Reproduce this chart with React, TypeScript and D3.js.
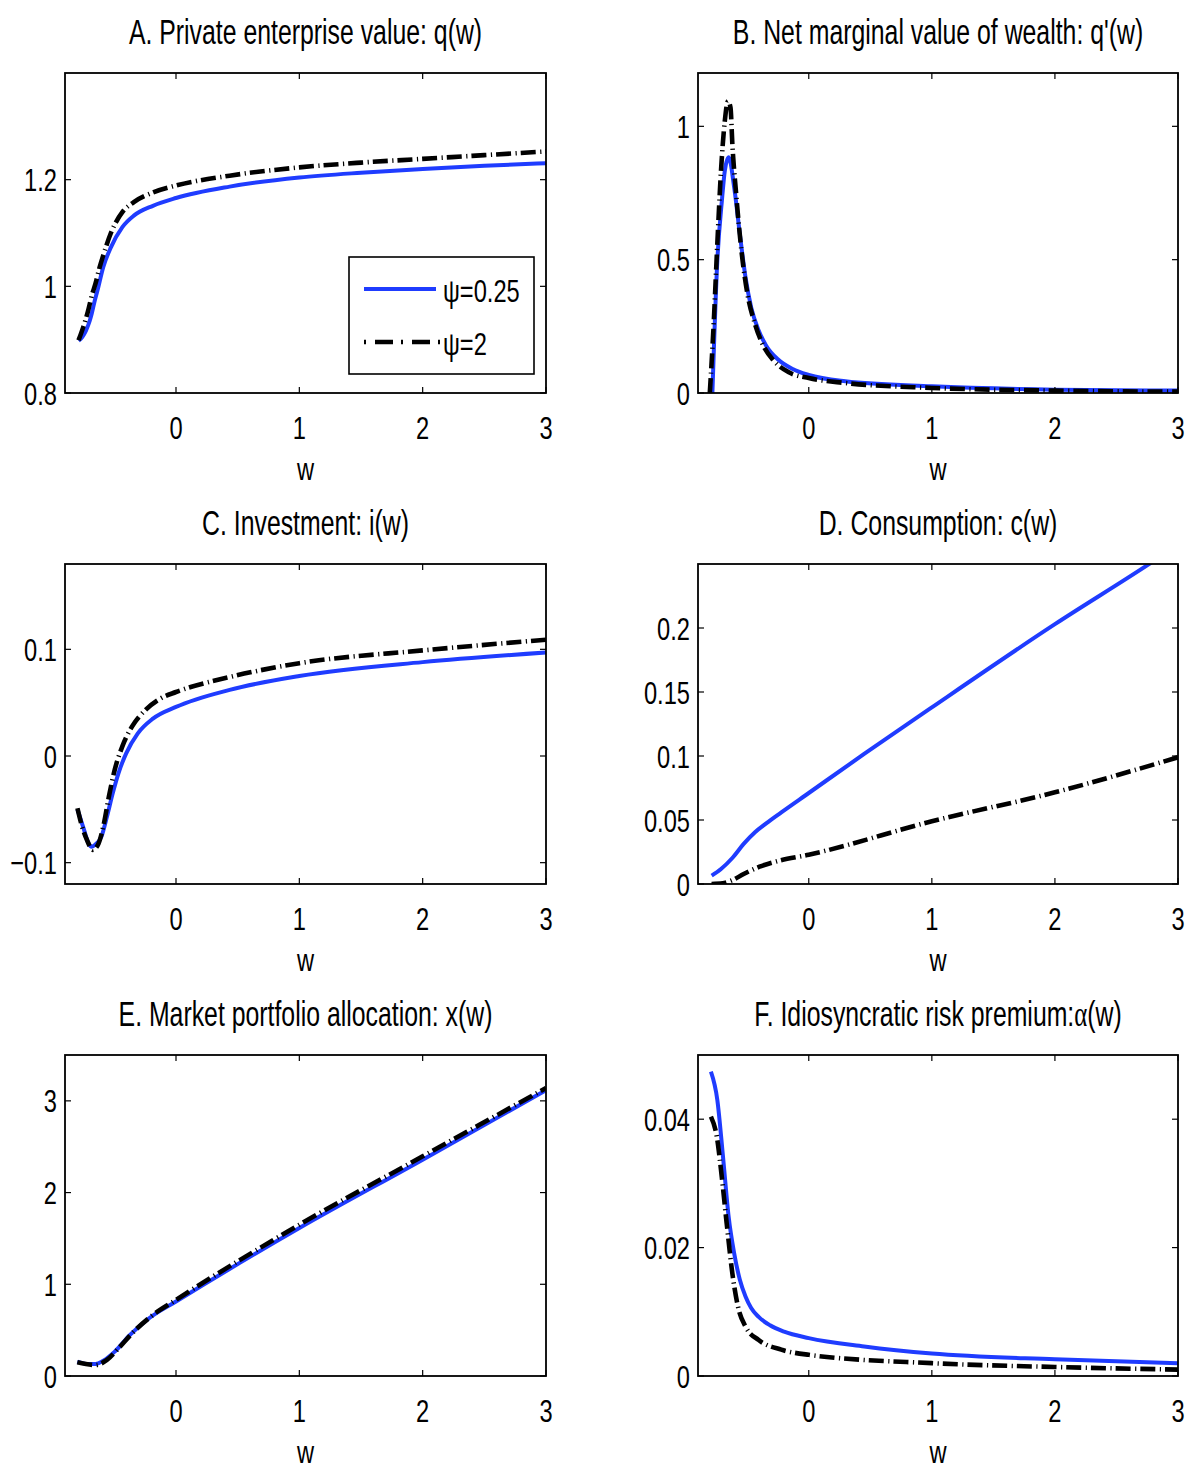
import React from "react";
import * as d3 from "d3";

// ---------- data ----------
const W_DOMAIN: [number, number] = [-0.9, 3];
const X_TICKS = [0, 1, 2, 3];

const TITLES = [
  "A. Private enterprise value: q(w)",
  "B. Net marginal value of wealth: q'(w)",
  "C. Investment: i(w)",
  "D. Consumption: c(w)",
  "E. Market portfolio allocation: x(w)",
  "F. Idiosyncratic risk premium:",
];
const LEGEND_LABELS = ["ψ=0.25", "ψ=2"];

const Y_DOMAINS: [number, number][] = [
  [0.8, 1.4],
  [0, 1.2],
  [-0.12, 0.18],
  [0, 0.25],
  [0, 3.5],
  [0, 0.05],
];
const Y_TICKS: number[][] = [
  [0.8, 1, 1.2],
  [0, 0.5, 1],
  [-0.1, 0, 0.1],
  [0, 0.05, 0.1, 0.15, 0.2],
  [0, 1, 2, 3],
  [0, 0.02, 0.04],
];
const Y_TICK_LABELS: string[][] = [
  ["0.8", "1", "1.2"],
  ["0", "0.5", "1"],
  ["−0.1", "0", "0.1"],
  ["0", "0.05", "0.1", "0.15", "0.2"],
  ["0", "1", "2", "3"],
  ["0", "0.02", "0.04"],
];

// A. q(w)
const qLow: [number, number][] = [
  [-0.79, 0.898], [-0.76, 0.905], [-0.73, 0.917], [-0.7, 0.935], [-0.684, 0.948],
  [-0.66, 0.972], [-0.637, 0.992], [-0.59, 1.036], [-0.528, 1.073], [-0.435, 1.111],
  [-0.342, 1.1325], [-0.187, 1.151], [0, 1.1656], [0.435, 1.187], [1, 1.204],
  [1.5, 1.213], [2, 1.22], [2.5, 1.226], [3, 1.231],
];
const qHigh: [number, number][] = [
  [-0.79, 0.899], [-0.75, 0.925], [-0.715, 0.952], [-0.68, 0.985], [-0.653, 1.005],
  [-0.62, 1.035], [-0.59, 1.058], [-0.528, 1.1], [-0.435, 1.139], [-0.342, 1.158],
  [-0.187, 1.176], [0, 1.189], [0.435, 1.2075], [1, 1.223], [1.5, 1.232],
  [2, 1.239], [2.5, 1.246], [3, 1.253],
];
// B. q'(w)
const dqLow: [number, number][] = [
  [-0.783, 0], [-0.743, 0.496], [-0.706, 0.721], [-0.682, 0.834], [-0.651, 0.884],
  [-0.606, 0.771], [-0.56, 0.596], [-0.514, 0.434], [-0.468, 0.321], [-0.407, 0.234],
  [-0.346, 0.1775], [-0.254, 0.1275], [-0.131, 0.09], [0, 0.0675], [0.297, 0.044],
  [1, 0.025], [2, 0.0125], [3, 0.009],
];
const dqHigh: [number, number][] = [
  [-0.804, 0], [-0.774, 0.246], [-0.743, 0.559], [-0.713, 0.834], [-0.682, 1.021],
  [-0.657, 1.094], [-0.636, 1.071], [-0.621, 0.934], [-0.59, 0.746], [-0.544, 0.521],
  [-0.498, 0.371], [-0.437, 0.259], [-0.376, 0.184], [-0.284, 0.121], [-0.162, 0.0775],
  [0, 0.056], [0.297, 0.0375], [1, 0.019], [2, 0.009], [3, 0.005],
];
// C. i(w)
const iLow: [number, number][] = [
  [-0.799, -0.05], [-0.746, -0.069], [-0.709, -0.082], [-0.684, -0.085], [-0.653, -0.083],
  [-0.606, -0.076], [-0.56, -0.057], [-0.513, -0.035], [-0.466, -0.016], [-0.404, 0.0025],
  [-0.311, 0.021], [-0.187, 0.035], [0, 0.046], [0.435, 0.062], [1, 0.075],
  [2, 0.088], [3, 0.097],
];
const iHigh: [number, number][] = [
  [-0.799, -0.049], [-0.762, -0.066], [-0.721, -0.079], [-0.675, -0.088], [-0.628, -0.082],
  [-0.584, -0.063], [-0.544, -0.038], [-0.497, -0.013], [-0.435, 0.009], [-0.357, 0.0275],
  [-0.249, 0.043], [-0.124, 0.054], [0, 0.06], [0.435, 0.074], [1, 0.087],
  [2, 0.099], [3, 0.109],
];
// D. c(w)
const cLow: [number, number][] = [
  [-0.789, 0.0065], [-0.713, 0.0117], [-0.621, 0.0203], [-0.529, 0.0313], [-0.437, 0.0404],
  [-0.346, 0.0474], [-0.223, 0.056], [0, 0.0711], [0.45, 0.1016], [1, 0.138],
  [2, 0.203], [2.758, 0.2495], [3, 0.265],
];
const cHigh: [number, number][] = [
  [-0.79, 0], [-0.7, 0.0005], [-0.62, 0.003], [-0.529, 0.0078], [-0.4, 0.0135],
  [-0.25, 0.018], [0, 0.0229], [1, 0.049], [2, 0.0716], [3, 0.099],
];
// E. x(w)
const xLow: [number, number][] = [
  [-0.8, 0.157], [-0.715, 0.131], [-0.653, 0.131], [-0.59, 0.167], [-0.497, 0.266],
  [-0.373, 0.448], [-0.218, 0.63], [0, 0.812], [1, 1.613], [2, 2.359], [3, 3.116],
];
const xHigh: [number, number][] = [
  [-0.8, 0.149], [-0.653, 0.12], [-0.56, 0.175], [-0.466, 0.302], [-0.342, 0.484],
  [-0.187, 0.666], [0, 0.83], [1, 1.649], [2, 2.395], [3, 3.14],
];
// F. alpha(w)
const aLow: [number, number][] = [
  [-0.795, 0.0474], [-0.743, 0.043], [-0.697, 0.0342], [-0.651, 0.0248], [-0.606, 0.0191],
  [-0.56, 0.015], [-0.514, 0.0124], [-0.468, 0.0106], [-0.407, 0.0092], [-0.315, 0.0079],
  [-0.2, 0.0069], [0, 0.0059], [0.45, 0.0046], [1, 0.0035], [2, 0.0026], [3, 0.002],
];
const aHigh: [number, number][] = [
  [-0.795, 0.0404], [-0.743, 0.0368], [-0.713, 0.0321], [-0.667, 0.0238], [-0.621, 0.016],
  [-0.575, 0.0108], [-0.514, 0.0077], [-0.407, 0.0056], [-0.223, 0.0041], [0, 0.0033],
  [1, 0.002], [2, 0.0014], [3, 0.001],
];

const SERIES_LOW = [qLow, dqLow, iLow, cLow, xLow, aLow];
const SERIES_HIGH = [qHigh, dqHigh, iHigh, cHigh, xHigh, aHigh];

// ---------- layout / style ----------
const COLS = [
  { x0: 65, x1: 546 },
  { x0: 698, x1: 1178 },
];
const ROWS = [
  { y0: 73, y1: 393 },
  { y0: 564, y1: 884 },
  { y0: 1055, y1: 1376 },
];
const BLUE = "#1f3cff";
const FONT = "'Liberation Sans', Arial, Helvetica, sans-serif";
const TICK_SIZE = 32;
const TICK_SX = 0.74;
const TITLE_SIZE = 36;
const TITLE_SX = 0.69;
const TICK_LEN = 6;
const BLUE_W = 4;
const BLACK_W = 4.6;

function T(props: {
  x: number;
  y: number;
  size: number;
  sx: number;
  anchor?: string;
  children: React.ReactNode;
}) {
  const { x, y, size, sx, anchor = "start", children } = props;
  return (
    <text
      transform={`translate(${x},${y}) scale(${sx},1)`}
      fontSize={size}
      fontFamily={FONT}
      textAnchor={anchor as any}
      fill="#000"
    >
      {children}
    </text>
  );
}

function Panel({ idx }: { idx: number }) {
  const col = COLS[idx % 2];
  const row = ROWS[Math.floor(idx / 2)];
  const x = d3.scaleLinear().domain(W_DOMAIN).range([col.x0, col.x1]);
  const y = d3.scaleLinear().domain(Y_DOMAINS[idx]).range([row.y1, row.y0]);
  const line = d3
    .line<[number, number]>()
    .x((d) => x(d[0]))
    .y((d) => y(d[1]))
    .curve(d3.curveMonotoneX);
  const clipId = `clip-${idx}`;
  const cx = (col.x0 + col.x1) / 2;
  return (
    <g>
      <defs>
        <clipPath id={clipId}>
          <rect x={col.x0} y={row.y0} width={col.x1 - col.x0} height={row.y1 - row.y0} />
        </clipPath>
      </defs>
      <g clipPath={`url(#${clipId})`}>
        <path d={line(SERIES_LOW[idx]) || ""} fill="none" stroke={BLUE} strokeWidth={BLUE_W} />
        <path
          d={line(SERIES_HIGH[idx]) || ""}
          fill="none"
          stroke="#000"
          strokeWidth={BLACK_W}
          strokeDasharray="15 4.5 1.2 4"
        />
      </g>
      {/* box */}
      <rect
        x={col.x0}
        y={row.y0}
        width={col.x1 - col.x0}
        height={row.y1 - row.y0}
        fill="none"
        stroke="#000"
        strokeWidth={1.8}
      />
      {/* x ticks */}
      {X_TICKS.map((t) => (
        <g key={"xt" + t}>
          <line x1={x(t)} x2={x(t)} y1={row.y1} y2={row.y1 - TICK_LEN} stroke="#000" strokeWidth={1.2} />
          <line x1={x(t)} x2={x(t)} y1={row.y0} y2={row.y0 + TICK_LEN} stroke="#000" strokeWidth={1.2} />
          <T x={x(t)} y={row.y1 + 46} size={TICK_SIZE} sx={TICK_SX} anchor="middle">
            {String(t)}
          </T>
        </g>
      ))}
      {/* y ticks */}
      {Y_TICKS[idx].map((t, i) => (
        <g key={"yt" + i}>
          <line x1={col.x0} x2={col.x0 + TICK_LEN} y1={y(t)} y2={y(t)} stroke="#000" strokeWidth={1.2} />
          <line x1={col.x1} x2={col.x1 - TICK_LEN} y1={y(t)} y2={y(t)} stroke="#000" strokeWidth={1.2} />
          <T x={col.x0 - 8} y={y(t) + 11.5} size={TICK_SIZE} sx={TICK_SX} anchor="end">
            {Y_TICK_LABELS[idx][i]}
          </T>
        </g>
      ))}
      {/* x label */}
      <T x={cx} y={row.y1 + 87} size={TICK_SIZE} sx={TICK_SX} anchor="middle">
        w
      </T>
      {/* title */}
      <T x={cx} y={row.y0 - 29} size={TITLE_SIZE} sx={TITLE_SX} anchor="middle">
        {TITLES[idx]}
        {idx === 5 ? (
          <>
            <tspan fontFamily="'Liberation Serif', 'Times New Roman', serif">α</tspan>
            (w)
          </>
        ) : null}
      </T>
    </g>
  );
}

function Legend() {
  const bx = 349, by = 257, bw = 185, bh = 117;
  return (
    <g>
      <rect x={bx} y={by} width={bw} height={bh} fill="#fff" stroke="#000" strokeWidth={1.6} />
      <line x1={364} x2={436} y1={289} y2={289} stroke={BLUE} strokeWidth={BLUE_W} />
      <T x={443} y={302} size={TICK_SIZE} sx={TICK_SX}>
        {LEGEND_LABELS[0]}
      </T>
      <line x1={364} x2={440} y1={342} y2={342} stroke="#000" strokeWidth={BLACK_W} strokeDasharray="2 9 18 8" />
      <T x={443} y={355} size={TICK_SIZE} sx={TICK_SX}>
        {LEGEND_LABELS[1]}
      </T>
    </g>
  );
}

export default function App() {
  return (
    <svg
      width={1190}
      height={1471}
      style={{ position: "absolute", left: 0, top: 0, background: "#fff" }}
    >
      <rect x={0} y={0} width={1190} height={1471} fill="#fff" />
      {[0, 1, 2, 3, 4, 5].map((i) => (
        <Panel key={i} idx={i} />
      ))}
      <Legend />
    </svg>
  );
}
